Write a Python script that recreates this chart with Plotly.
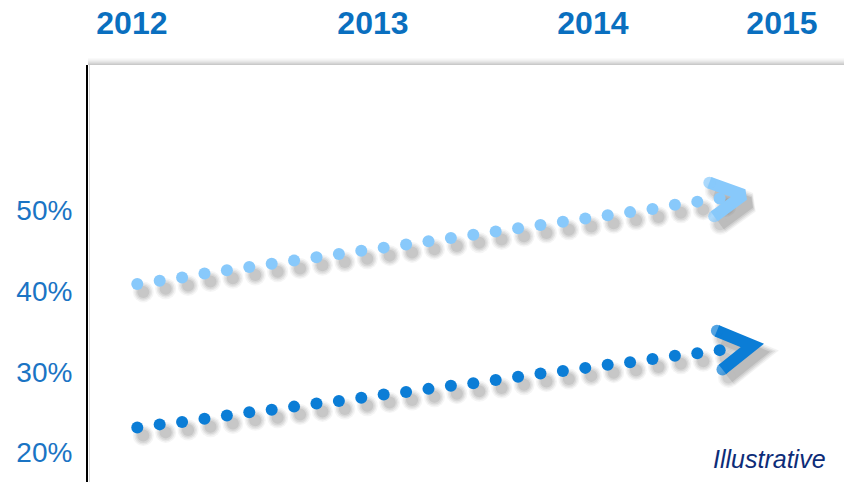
import math
import plotly.graph_objects as go

# Position of each dot along the 2012-2015 timeline
steps = list(range(27))

# Share values (%) for the two trend lines, one value per dot
upper_share = [40.9, 41.3, 41.7, 42.2, 42.6, 43.0, 43.4, 43.8, 44.2, 44.6,
               45.0, 45.4, 45.8, 46.2, 46.6, 47.0, 47.4, 47.8, 48.2, 48.6,
               49.0, 49.4, 49.8, 50.2, 50.7, 51.1, 51.5]
lower_share = [23.1, 23.5, 23.8, 24.2, 24.6, 25.0, 25.3, 25.7, 26.1, 26.4,
               26.8, 27.2, 27.5, 27.9, 28.3, 28.6, 29.0, 29.4, 29.8, 30.1,
               30.5, 30.9, 31.2, 31.6, 32.0, 32.3, 32.7]

years = ["2012", "2013", "2014", "2015"]
year_pos = [-0.24, 10.52, 20.34, 28.78]
pct_ticks = [20, 30, 40, 50]

# ---- layout geometry ----
W, H = 844, 482
M_L, M_T = 88, 65
X_RANGE = [-2.2, 31.55]
Y_RANGE = [16.36, 68.03]
plot_w, plot_h = W - M_L, H - M_T
kx = plot_w / (X_RANGE[1] - X_RANGE[0])   # px per x unit
ky = plot_h / (Y_RANGE[1] - Y_RANGE[0])   # px per y unit

FONT = "Liberation Sans, Arial, sans-serif"
SHADOW_DX, SHADOW_DY = 6 / kx, -8 / ky     # drop shadow offset (down-right)
SHADOW_LAYERS = [(9, 0.05), (6, 0.07), (3, 0.08), (0, 0.10)]

series = [
    dict(y=upper_share, color="#88c9fb", back=-8.0, depth=32.0, half=17.0, width=12),
    dict(y=lower_share, color="#0b7dd6", back=0.0, depth=33.0, half=19.5, width=12),
]
DOT = 12


def chevron(xs, ys, back, depth, half):
    """Arrow head path aligned with the direction of the last segment."""
    x1, y1, x0, y0 = xs[-1], ys[-1], xs[-2], ys[-2]
    px, py = (x1 - x0) * kx, (y1 - y0) * ky
    L = math.hypot(px, py)
    ux, uy = px / L, py / L
    nx, ny = -uy, ux

    def pt(a, b):
        return x1 + (a * ux + b * nx) / kx, y1 + (a * uy + b * ny) / ky

    top, tip, bot = pt(back, half), pt(back + depth, 0), pt(back, -half)
    return [top[0], tip[0], bot[0]], [top[1], tip[1], bot[1]]


fig = go.Figure()

# shadows
for s in series:
    sx = [x + SHADOW_DX for x in steps]
    sy = [v + SHADOW_DY for v in s["y"]]
    cx, cy = chevron(steps, s["y"], s["back"], s["depth"], s["half"])
    cx = [x + SHADOW_DX for x in cx]
    cy = [v + SHADOW_DY for v in cy]
    for grow, op in SHADOW_LAYERS:
        fig.add_trace(go.Scatter(
            x=sx, y=sy, mode="markers", hoverinfo="skip", showlegend=False,
            marker=dict(size=DOT + grow, color="#333333", opacity=op, line_width=0)))
        w = s["width"] + grow
        fig.add_trace(go.Scatter(
            x=cx, y=cy, mode="lines+markers", hoverinfo="skip", showlegend=False,
            opacity=op * 1.2,
            line=dict(color="#333333", width=w),
            marker=dict(size=[w, 0, w], color="#333333", line_width=0)))

# dotted trend lines and arrow heads
for s in series:
    fig.add_trace(go.Scatter(
        x=steps, y=s["y"], mode="markers", hoverinfo="skip", showlegend=False,
        marker=dict(size=DOT, color=s["color"], line_width=0)))
    cx, cy = chevron(steps, s["y"], s["back"], s["depth"], s["half"])
    fig.add_trace(go.Scatter(
        x=cx, y=cy, mode="lines+markers", hoverinfo="skip", showlegend=False,
        line=dict(color=s["color"], width=s["width"]),
        marker=dict(size=[s["width"], 0, s["width"]], color=s["color"], line_width=0)))

# soft shadow along the top edge of the panel
shapes = []
grays = ["#c9c9c9", "#d4d4d4", "#dedede", "#e7e7e7", "#efefef", "#f5f5f5", "#fafafa"]
for k, g in enumerate(grays):
    yk = 1 + (k + 0.5) / plot_h
    shapes.append(dict(type="line", xref="paper", yref="paper", x0=0, x1=1,
                       y0=yk, y1=yk, line=dict(color=g, width=1)))
shapes.append(dict(type="line", xref="paper", yref="paper",
                   x0=1.5 / plot_w, x1=1.5 / plot_w, y0=0, y1=1,
                   line=dict(color="#d8d8d8", width=1)))

fig.update_layout(
    width=W, height=H,
    margin=dict(l=M_L, r=0, t=M_T, b=0, pad=0),
    paper_bgcolor="white", plot_bgcolor="white",
    shapes=shapes,
    xaxis=dict(range=X_RANGE, side="top", tickvals=year_pos, ticktext=years,
               showgrid=False, zeroline=False, showline=False, ticks="",
               ticklabelstandoff=24,
               tickfont=dict(family=FONT, size=32, color="#0a6fbf", weight="bold")),
    yaxis=dict(range=Y_RANGE, tickvals=pct_ticks,
               ticktext=[f"{v}%" for v in pct_ticks],
               showgrid=False, zeroline=False, showline=True,
               linecolor="black", linewidth=2, ticks="", ticklabelstandoff=8,
               tickfont=dict(family=FONT, size=28, color="#1a74c4")),
    annotations=[dict(text="Illustrative", xref="paper", yref="paper",
                      x=1, y=0, xanchor="right", yanchor="bottom",
                      xshift=-16, yshift=7, showarrow=False,
                      font=dict(family=FONT, size=25, color="#0d2c78",
                                style="italic"))],
)

fig.write_html("out.html")
